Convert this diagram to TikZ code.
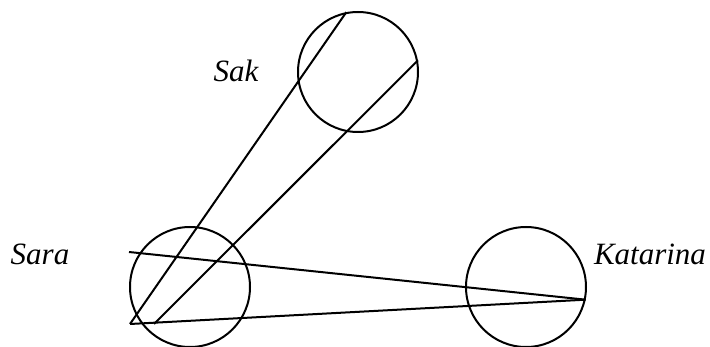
\documentclass[tikz,border=0pt]{standalone}
\usepackage{fontspec}
\setmainfont{Liberation Serif}
\usetikzlibrary{positioning,calc}

\tikzset{
  person/.style={circle, draw, line width=2pt, minimum size=120pt, inner sep=0pt},
  personname/.style={anchor=base, font=\fontsize{31}{36}\selectfont\itshape},
  sight/.style={line width=2pt}
}

\begin{document}
\begin{tikzpicture}[x=1pt, y=-1pt]
      \useasboundingbox (0,0) rectangle (710,347);
      % the three persons
      \node[person] (sak) at (358,72) {};
      \node[person] (sara) at (190,287) {};
      \node[person] (katarina) at (526,287) {};
      %
      \node[personname] (sakname) at (236,82) {Sak};
      \node[personname] (saraname) at (40,265) {Sara};
      \node[personname] (katname) at (650,265) {Katarina};
      %
      \coordinate (eyea) at (130,324);
      \coordinate (eyeb) at (154,324);
      \coordinate (eyec) at (129,252);
      \draw[sight] (eyea) -- (sak.101);
      \draw[sight] (eyeb) -- (sak.11);
      \draw[sight] (eyec) -- (katarina.-12);
      \draw[sight] (eyea) -- (katarina.-12);
    \end{tikzpicture}
\end{document}
